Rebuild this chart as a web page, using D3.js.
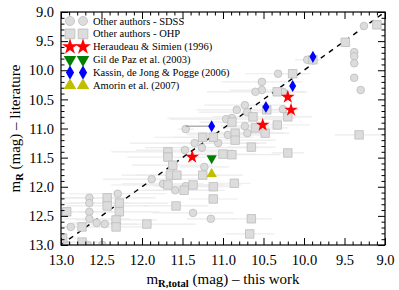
<!DOCTYPE html>
<html>
<head>
<meta charset="utf-8">
<script src="https://cdn.jsdelivr.net/npm/d3@7"></script>
<style>
  body { margin: 0; background: #fff; }
</style>
</head>
<body>
<div id="chart"></div>
<script>
// other authors - SDSS (x = this work, y = literature, xerr)
var sdssX = [9.26, 9.38, 9.38, 9.38, 9.38, 9.30, 9.96, 10.32, 10.52, 10.52, 10.26, 10.60, 10.73, 10.70, 10.83,
  10.89, 10.96, 11.46, 10.73, 10.70, 10.94, 11.06, 11.35, 11.26, 11.47, 10.26, 11.23, 11.88, 11.74, 11.46,
  11.59, 12.30, 12.65, 12.65, 12.65, 12.65, 12.46, 12.56, 12.88, 11.37, 11.15, 12.93, 12.67, 12.49];
var sdssY = [9.24, 9.69, 9.76, 9.88, 10.13, 10.34, 9.82, 10.06, 10.20, 10.34, 10.37, 10.37, 10.60, 10.72, 10.68,
  10.82, 10.84, 11.01, 10.96, 11.08, 11.11, 11.25, 11.25, 11.33, 11.37, 10.67, 11.66, 11.87, 11.95, 11.99,
  12.06, 12.12, 12.19, 12.28, 12.43, 12.55, 12.64, 12.62, 12.69, 12.45, 12.55, 13.0, 13.0, 13.0];
var sdssErr = [0.05, 0.05, 0.05, 0.05, 0.05, 0.05, 0.15, 0.4, 0.5, 0.4, 0.3, 0.6, 0.5, 0.6, 0.5,
  0.8, 0.7, 0.1, 0.3, 0.4, 0.5, 0.6, 0.8, 0.7, 0.6, 0.2, 0.3, 0.6, 0.5, 0.4,
  0.5, 0.6, 0.4, 0.5, 0.4, 0.5, 0.4, 0.3, 0.2, 0.5, 0.3, 0.2, 0.3, 0.3];

// other authors - OHP
var ohpX = [9.10, 9.49, 9.89, 10.14, 10.33, 10.46, 10.20, 10.33, 10.63, 10.60, 10.48, 10.85, 10.85, 10.89, 11.25,
  11.12, 11.68, 11.68, 10.89, 10.20, 9.32, 10.65, 11.00, 11.12, 11.12, 10.86, 10.65, 10.67, 11.62, 11.65,
  11.57, 11.25, 11.68, 11.37, 11.48, 12.43, 12.43, 12.28, 12.28, 11.58, 12.93, 12.32, 12.32, 11.94, 12.74,
  12.74, 12.98];
var ohpY = [9.22, 9.52, 9.82, 10.06, 10.37, 10.68, 10.80, 10.94, 10.80, 10.99, 11.08, 11.08, 11.20, 10.89, 11.15,
  11.15, 11.40, 11.49, 11.45, 11.42, 11.11, 11.32, 11.44, 12.00, 12.21, 11.94, 12.55, 12.81, 11.63, 11.80,
  11.80, 11.80, 11.97, 11.97, 12.06, 12.19, 12.33, 12.28, 12.43, 12.33, 12.43, 12.57, 12.69, 12.64, 12.69,
  12.95, 12.88];
var ohpErr = [0.05, 0.05, 0.1, 0.15, 0.3, 0.3, 0.3, 0.4, 0.5, 0.4, 0.3, 0.6, 0.5, 0.4, 0.6,
  0.5, 0.7, 0.5, 0.6, 0.2, 0.3, 0.3, 0.4, 0.3, 0.3, 0.2, 0.25, 0.3, 0.5, 0.6,
  0.5, 0.5, 0.7, 0.6, 0.5, 0.6, 0.5, 0.6, 0.5, 0.4, 0.1, 0.5, 0.4, 0.6, 0.3,
  0.3, 0.2];

var heraudeauX = [10.20, 10.16, 10.51, 11.38];
var heraudeauY = [10.46, 10.68, 10.94, 11.49];
var gilX = [11.14];
var gilY = [11.51];
var kassinX = [9.89, 10.14, 10.47, 11.14];
var kassinY = [9.77, 10.27, 10.63, 10.96];
var kassinErrLo = [0, 0, 0, 0.32];
var amorinX = [11.14];
var amorinY = [11.78];

var legendLabels = ["Other authors - SDSS", "Other authors - OHP", "Heraudeau & Simien (1996)",
  "Gil de Paz et al. (2003)", "Kassin, de Jong & Pogge (2006)", "Amorin et al. (2007)"];

var serif = "'Liberation Serif'";

var W = 399, H = 290;
var margin = {top: 12, right: 14, bottom: 45, left: 61},
    width = W - margin.left - margin.right,
    height = H - margin.top - margin.bottom;

var svg = d3.select("#chart").append("svg")
    .attr("width", W).attr("height", H);
var g = svg.append("g")
    .attr("transform", "translate(" + margin.left + "," + margin.top + ")");

var x = d3.scaleLinear().domain([13, 9]).range([0, width]);
var y = d3.scaleLinear().domain([9, 13]).range([0, height]);

svg.append("defs").append("clipPath").attr("id", "clip")
  .append("rect").attr("width", width).attr("height", height);

var plot = g.append("g").attr("clip-path", "url(#clip)");

var grayFill = "#dcdcdc", grayEdge = "#bcbcbc";

function pts(xs, ys, errs) {
  return xs.map(function(v, i) { return {x: v, y: ys[i], e: errs ? errs[i] : 0}; });
}
var sdss = pts(sdssX, sdssY, sdssErr);
var ohp = pts(ohpX, ohpY, ohpErr);

// error bars
plot.append("g").selectAll("line")
  .data(sdss.concat(ohp))
  .enter().append("line")
    .attr("x1", function(d) { return x(d.x + d.e); })
    .attr("x2", function(d) { return x(d.x - d.e); })
    .attr("y1", function(d) { return y(d.y); })
    .attr("y2", function(d) { return y(d.y); })
    .attr("stroke", "#ebebeb")
    .attr("stroke-width", 1.2);

// one-to-one line
plot.append("line")
  .attr("x1", x(13)).attr("y1", y(13))
  .attr("x2", x(9)).attr("y2", y(9))
  .attr("stroke", "#000")
  .attr("stroke-width", 1.4)
  .attr("stroke-dasharray", "5,5");

var circ = d3.symbol().type(d3.symbolCircle).size(46);
var sq = d3.symbol().type(d3.symbolSquare).size(72);

plot.append("g").selectAll("path")
  .data(sdss)
  .enter().append("path")
    .attr("d", circ)
    .attr("transform", function(d) { return "translate(" + x(d.x) + "," + y(d.y) + ")"; })
    .attr("fill", grayFill).attr("stroke", grayEdge).attr("stroke-width", 0.8);

plot.append("g").selectAll("path")
  .data(ohp)
  .enter().append("path")
    .attr("d", sq)
    .attr("transform", function(d) { return "translate(" + x(d.x) + "," + y(d.y) + ")"; })
    .attr("fill", grayFill).attr("stroke", grayEdge).attr("stroke-width", 0.8);

// kassin error bar (left side)
plot.append("g").selectAll("line")
  .data(pts(kassinX, kassinY, kassinErrLo).filter(function(d) { return d.e > 0; }))
  .enter().append("line")
    .attr("x1", function(d) { return x(d.x + d.e); })
    .attr("x2", function(d) { return x(d.x); })
    .attr("y1", function(d) { return y(d.y); })
    .attr("y2", function(d) { return y(d.y); })
    .attr("stroke", "#8a8a8a").attr("stroke-width", 1);

var sets = [
  {xs: heraudeauX, ys: heraudeauY, type: d3.symbolStar, size: 58, rot: 0, color: "#ff0000"},
  {xs: gilX, ys: gilY, type: d3.symbolTriangle, size: 46, rot: 180, color: "#008000"},
  {xs: kassinX, ys: kassinY, type: d3.symbolDiamond, size: 42, rot: 0, color: "#0000ff"},
  {xs: amorinX, ys: amorinY, type: d3.symbolTriangle, size: 46, rot: 0, color: "#bfbf00"}
];

sets.forEach(function(s) {
  plot.append("g").selectAll("path")
    .data(pts(s.xs, s.ys))
    .enter().append("path")
      .attr("d", d3.symbol().type(s.type).size(s.size))
      .attr("transform", function(d) {
        return "translate(" + x(d.x) + "," + y(d.y) + ") rotate(" + s.rot + ")";
      })
      .attr("fill", s.color);
});

// axes with inward ticks on all sides
var major = d3.range(9, 13.01, 0.5);
var minor = d3.range(9, 13.01, 0.1).filter(function(v) {
  return Math.abs(v * 2 - Math.round(v * 2)) > 0.01;
});

function tickGroup(axisFn, scale, vals, len, labels, pad) {
  return axisFn(scale).tickValues(vals).tickSize(-len).tickPadding(pad)
    .tickFormat(labels ? d3.format(".1f") : "");
}

var axes = [
  {fn: d3.axisBottom, s: x, tr: "translate(0," + height + ")", lab: true, pad: 10},
  {fn: d3.axisTop, s: x, tr: "translate(0,0)", lab: false, pad: 3},
  {fn: d3.axisLeft, s: y, tr: "translate(0,0)", lab: true, pad: 7},
  {fn: d3.axisRight, s: y, tr: "translate(" + width + ",0)", lab: false, pad: 3}
];

axes.forEach(function(a) {
  var gm = g.append("g").attr("transform", a.tr)
    .call(tickGroup(a.fn, a.s, minor, 3.5, false, 3));
  gm.select(".domain").remove();
  var gM = g.append("g").attr("transform", a.tr)
    .call(tickGroup(a.fn, a.s, major, 7, a.lab, a.pad));
  gM.select(".domain").remove();
  gM.selectAll("text")
    .style("font-family", serif)
    .style("font-size", "14.5px")
    .attr("fill", "#000");
  g.selectAll(".tick line").attr("stroke", "#000").attr("stroke-width", 1);
});

g.append("rect")
  .attr("width", width).attr("height", height)
  .attr("fill", "none").attr("stroke", "#000").attr("stroke-width", 1.2);

// axis titles
var xt = svg.append("text")
  .attr("x", margin.left + width / 2).attr("y", 284)
  .attr("text-anchor", "middle")
  .style("font-family", serif).style("font-size", "15px");
xt.append("tspan").text("m");
xt.append("tspan").style("font-size", "10.5px").attr("dy", 3).attr("font-weight", "bold").text("R,total");
xt.append("tspan").attr("dy", -3).text(" (mag) \u2013 this work");

var yt = svg.append("text")
  .attr("transform", "translate(20," + (margin.top + height / 2) + ") rotate(-90)")
  .attr("text-anchor", "middle")
  .style("font-family", serif).style("font-size", "15px");
yt.append("tspan").text("m");
yt.append("tspan").style("font-size", "10.5px").attr("dy", 3).attr("font-weight", "bold").text("R");
yt.append("tspan").attr("dy", -3).text(" (mag) \u2013 literature");

// legend
var legendSyms = [
  {type: d3.symbolCircle, size: 64, rot: 0, fill: grayFill, stroke: grayEdge},
  {type: d3.symbolSquare, size: 95, rot: 0, fill: grayFill, stroke: grayEdge},
  {type: d3.symbolStar, size: 80, rot: 0, fill: "#ff0000", stroke: "none"},
  {type: d3.symbolTriangle, size: 68, rot: 180, fill: "#008000", stroke: "none"},
  {type: d3.symbolDiamond, size: 58, rot: 0, fill: "#0000ff", stroke: "none"},
  {type: d3.symbolTriangle, size: 68, rot: 0, fill: "#bfbf00", stroke: "none"}
];

var leg = svg.append("g");
legendLabels.forEach(function(lab, i) {
  var ly = 21 + i * 12.9;
  var s = legendSyms[i];
  [70, 83].forEach(function(lx) {
    leg.append("path")
      .attr("d", d3.symbol().type(s.type).size(s.size))
      .attr("transform", "translate(" + lx + "," + ly + ") rotate(" + s.rot + ")")
      .attr("fill", s.fill).attr("stroke", s.stroke).attr("stroke-width", 0.8);
  });
  leg.append("text")
    .attr("x", 93).attr("y", ly + 3.5)
    .style("font-family", serif)
    .style("font-size", "10.5px")
    .text(lab);
});
</script>
</body>
</html>
